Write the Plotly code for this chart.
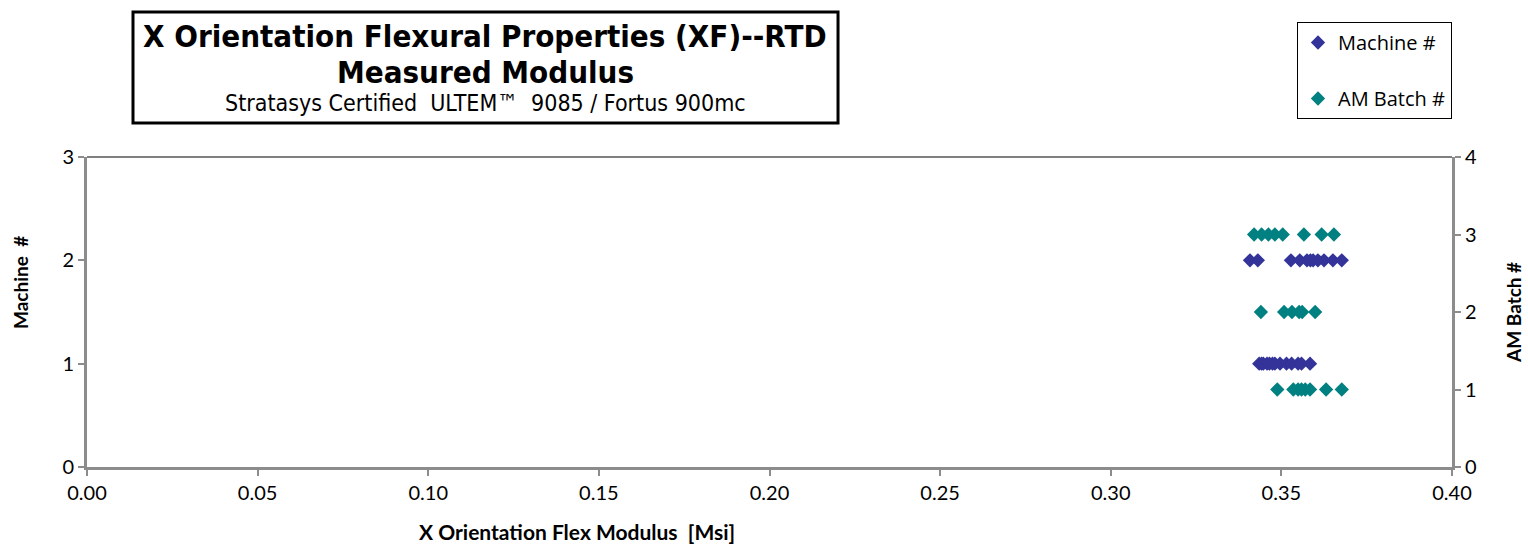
import plotly.graph_objects as go

# X Orientation Flex Modulus [Msi] readings, grouped by machine and AM batch
machine_1 = [0.3435, 0.3442, 0.3447, 0.3458, 0.3465, 0.3474, 0.3481, 0.3496, 0.3515, 0.3530, 0.3549, 0.3559, 0.3584]
machine_2 = [0.3408, 0.3431, 0.3528, 0.3554, 0.3575, 0.3585, 0.3593, 0.3607, 0.3625, 0.3651, 0.3677]
batch_1 = [0.3488, 0.3535, 0.3549, 0.3559, 0.3570, 0.3584, 0.3631, 0.3677]
batch_2 = [0.3440, 0.3508, 0.3531, 0.3552, 0.3561, 0.3599]
batch_3 = [0.3420, 0.3442, 0.3462, 0.3481, 0.3504, 0.3566, 0.3618, 0.3654]

machine_y = [1.0] * len(machine_1) + [2.0] * len(machine_2)
machine_x = machine_1 + machine_2
batch_y = [1.0] * len(batch_1) + [2.0] * len(batch_2) + [3.0] * len(batch_3)
batch_x = batch_1 + batch_2 + batch_3

x_ticks = [0.00, 0.05, 0.10, 0.15, 0.20, 0.25, 0.30, 0.35, 0.40]

sans = "Lato, Open Sans, sans-serif"
narrow = "Liberation Sans Narrow, DejaVu Sans Condensed, Liberation Sans"
tick_font = dict(family=sans, size=20, color="black")
axis_grey = "#8c8c8c"

fig = go.Figure()
fig.add_trace(go.Scatter(
    x=machine_x, y=machine_y, mode="markers", name="Machine #",
    marker=dict(symbol="diamond", size=11, color="#333399"),
    legendgroup="a",
))
fig.add_trace(go.Scatter(
    x=batch_x, y=batch_y, mode="markers", name="AM Batch #", yaxis="y2",
    marker=dict(symbol="diamond", size=11, color="#008080"),
    legendgroup="b",
))

fig.update_layout(
    width=1528, height=545,
    margin=dict(l=87, r=76, t=157, b=78),
    paper_bgcolor="white", plot_bgcolor="white",
    xaxis=dict(
        range=[0, 0.40], tickvals=x_ticks, ticktext=[f"{v:.2f}" for v in x_ticks],
        showgrid=False, zeroline=False, showline=True, linecolor=axis_grey, linewidth=3,
        ticks="outside", ticklen=6, tickwidth=2, tickcolor=axis_grey, tickfont=tick_font,
    ),
    yaxis=dict(
        range=[0, 3], dtick=1, showgrid=False, zeroline=False,
        showline=True, linecolor=axis_grey, linewidth=3,
        ticks="outside", ticklen=6, tickwidth=2, tickcolor=axis_grey, tickfont=tick_font,
    ),
    yaxis2=dict(
        range=[0, 4], dtick=1, overlaying="y", side="right", showgrid=False, zeroline=False,
        showline=True, linecolor=axis_grey, linewidth=3,
        ticks="outside", ticklen=6, tickwidth=2, tickcolor=axis_grey, tickfont=tick_font,
    ),
    showlegend=True,
    legend=dict(
        x=(1297 - 87) / 1365, y=(467 - 22) / 310, xanchor="left", yanchor="top",
        bordercolor="black", borderwidth=1, bgcolor="white",
        font=dict(family="Open Sans, Lato, sans-serif", size=20, color="black"),
        traceorder="grouped", tracegroupgap=27, entrywidth=125,
    ),
    shapes=[
        # title box
        dict(type="rect", xref="paper", yref="paper", x0=0.0337, x1=0.5502, y0=1.1097, y1=1.4677,
             line=dict(color="black", width=3), fillcolor="white", layer="below"),
        # top border of plot area
        dict(type="line", xref="paper", yref="paper", x0=0, x1=1, y0=1, y1=1,
             line=dict(color="black", width=1)),
    ],
    annotations=[
        dict(text="<b>X Orientation Flexural Properties (XF)--RTD</b>", xref="paper", yref="paper",
             x=0.2919, y=(467 - 36) / 310, xanchor="center", yanchor="middle", showarrow=False,
             font=dict(family=narrow, size=31, color="black")),
        dict(text="<b>Measured Modulus</b>", xref="paper", yref="paper",
             x=0.2919, y=(467 - 72) / 310, xanchor="center", yanchor="middle", showarrow=False,
             font=dict(family=narrow, size=31, color="black")),
        dict(text="Stratasys Certified  ULTEM™  9085 / Fortus 900mc", xref="paper", yref="paper",
             x=0.2919, y=(467 - 103) / 310, xanchor="center", yanchor="middle", showarrow=False,
             font=dict(family=narrow, size=23, color="black")),
        dict(text="<b>X Orientation Flex Modulus  [Msi]</b>", xref="paper", yref="paper",
             x=(577 - 87) / 1365, y=(467 - 531) / 310, xanchor="center", yanchor="middle", showarrow=False,
             font=dict(family=sans, size=21, color="black")),
        dict(text="<b>Machine  #</b>", xref="paper", yref="paper", textangle=-90,
             x=(20 - 87) / 1365, y=(467 - 283) / 310, xanchor="center", yanchor="middle", showarrow=False,
             font=dict(family=sans, size=19, color="black")),
        dict(text="<b>AM Batch #</b>", xref="paper", yref="paper", textangle=-90,
             x=(1513 - 87) / 1365, y=(467 - 313) / 310, xanchor="center", yanchor="middle", showarrow=False,
             font=dict(family=sans, size=19, color="black")),
    ],
)

fig.write_html("out.html", config={"displayModeBar": False},
               post_script="document.body.style.margin='0';")
